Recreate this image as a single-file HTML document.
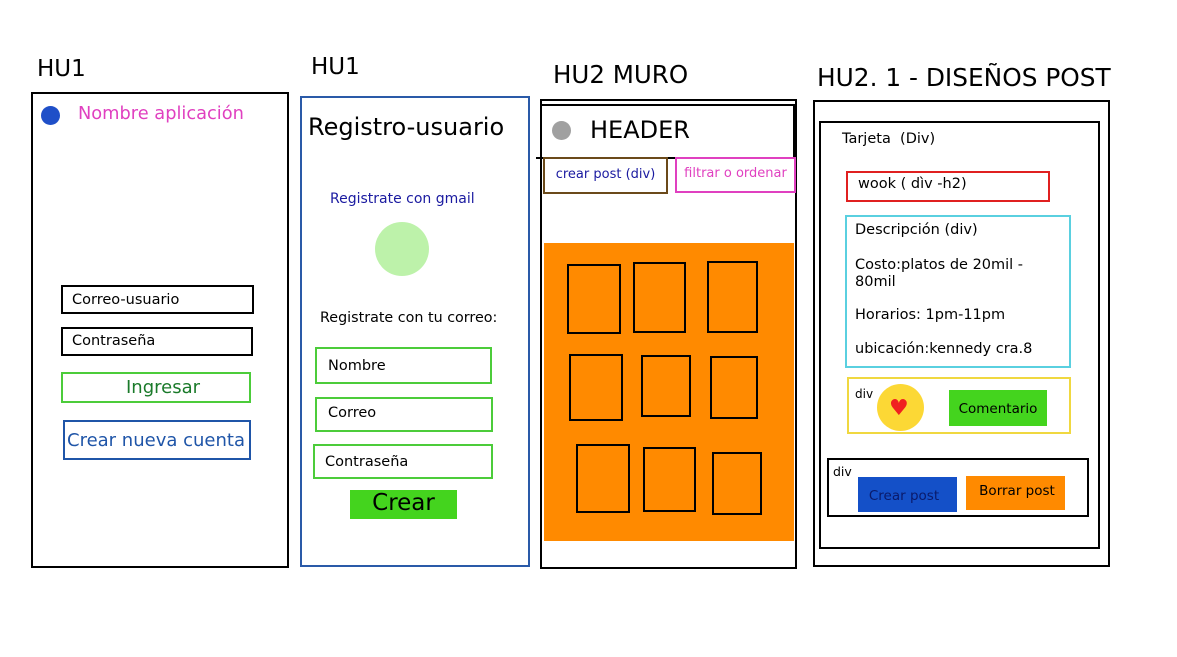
<!DOCTYPE html>
<html><head><meta charset="utf-8"><style>
body{margin:0;width:1177px;height:657px;background:#fff;position:relative;font-family:"DejaVu Sans","Liberation Sans",sans-serif;overflow:hidden}
div{position:absolute;box-sizing:border-box}
.t{white-space:nowrap;line-height:1}
.b{border:2px solid #000}
.c{border-radius:50%}
</style></head><body>
<div class="t" style="left:37px;top:58px;font-size:23px">HU1</div>
<div class="b" style="left:31px;top:92px;width:258px;height:476px"></div>
<div class="c" style="left:41px;top:106px;width:19px;height:19px;background:#1f4fc8"></div>
<div class="t" style="left:78px;top:105px;font-size:17.8px;color:#e040c0">Nombre aplicación</div>
<div class="b" style="left:61px;top:285px;width:193px;height:29px"></div>
<div class="t" style="left:72px;top:293px;font-size:14.5px">Correo-usuario</div>
<div class="b" style="left:61px;top:327px;width:192px;height:29px"></div>
<div class="t" style="left:72px;top:334px;font-size:14.5px">Contraseña</div>
<div style="left:61px;top:372px;width:190px;height:31px;border:2px solid #4ccc3a"></div>
<div class="t" style="left:61px;top:379px;width:176px;text-align:center;font-size:18px;color:#1a7a2a;padding-left:14px;box-sizing:content-box">Ingresar</div>
<div style="left:63px;top:420px;width:188px;height:40px;border:2px solid #1f55a8"></div>
<div class="t" style="left:67px;top:432px;font-size:18px;color:#1f55a8">Crear nueva cuenta</div>

<div class="t" style="left:311px;top:56px;font-size:23px">HU1</div>
<div style="left:300px;top:96px;width:230px;height:471px;border:2px solid #2a5aa8"></div>
<div class="t" style="left:308px;top:115px;font-size:24px">Registro-usuario</div>
<div class="t" style="left:330px;top:192px;font-size:14px;color:#1a1aa0">Registrate con gmail</div>
<div class="c" style="left:375px;top:222px;width:54px;height:54px;background:#bdf2aa"></div>
<div class="t" style="left:320px;top:311px;font-size:14.3px">Registrate con tu correo:</div>
<div style="left:315px;top:347px;width:177px;height:37px;border:2px solid #4ccc3a"></div>
<div class="t" style="left:328px;top:359px;font-size:14.5px">Nombre</div>
<div style="left:315px;top:397px;width:178px;height:35px;border:2px solid #4ccc3a"></div>
<div class="t" style="left:328px;top:406px;font-size:14.5px">Correo</div>
<div style="left:313px;top:444px;width:180px;height:35px;border:2px solid #4ccc3a"></div>
<div class="t" style="left:325px;top:455px;font-size:14.5px">Contraseña</div>
<div style="left:350px;top:490px;width:107px;height:29px;background:#44d41e"></div>
<div class="t" style="left:350px;top:492px;width:107px;text-align:center;font-size:23px">Crear</div>

<div class="t" style="left:553px;top:63px;font-size:24.5px">HU2 MURO</div>
<div class="b" style="left:540px;top:99px;width:257px;height:470px"></div>
<div style="left:540px;top:104px;width:256px;height:55px;border:2px solid #000;border-right-width:3px"></div>
<div style="left:536px;top:157px;width:6px;height:2px;background:#000"></div>
<div class="c" style="left:552px;top:121px;width:19px;height:19px;background:#a0a0a0"></div>
<div class="t" style="left:590px;top:118px;font-size:24px">HEADER</div>
<div style="left:543px;top:157px;width:125px;height:37px;border:2px solid #6b4a1a"></div>
<div class="t" style="left:543px;top:168px;width:125px;text-align:center;font-size:13px;color:#1a1aa0">crear post (div)</div>
<div style="left:675px;top:157px;width:121px;height:36px;border:2px solid #e040c0"></div>
<div class="t" style="left:675px;top:167px;width:121px;text-align:center;font-size:13px;color:#e040c0">filtrar o ordenar</div>
<div style="left:544px;top:243px;width:250px;height:298px;background:#ff8a00"></div>
<div class="b" style="left:567px;top:264px;width:54px;height:70px"></div>
<div class="b" style="left:633px;top:262px;width:53px;height:71px"></div>
<div class="b" style="left:707px;top:261px;width:51px;height:72px"></div>
<div class="b" style="left:569px;top:354px;width:54px;height:67px"></div>
<div class="b" style="left:641px;top:355px;width:50px;height:62px"></div>
<div class="b" style="left:710px;top:356px;width:48px;height:63px"></div>
<div class="b" style="left:576px;top:444px;width:54px;height:69px"></div>
<div class="b" style="left:643px;top:447px;width:53px;height:65px"></div>
<div class="b" style="left:712px;top:452px;width:50px;height:63px"></div>

<div class="t" style="left:817px;top:66px;font-size:24.8px">HU2. 1 - DISEÑOS POST</div>
<div class="b" style="left:813px;top:100px;width:297px;height:467px"></div>
<div class="b" style="left:819px;top:121px;width:281px;height:428px"></div>
<div class="t" style="left:842px;top:132px;font-size:14.5px">Tarjeta&nbsp; (Div)</div>
<div style="left:846px;top:171px;width:204px;height:31px;border:2px solid #e02020"></div>
<div class="t" style="left:858px;top:177px;font-size:14.5px">wook ( dìv -h2)</div>
<div style="left:845px;top:215px;width:226px;height:153px;border:2px solid #5ad0e0"></div>
<div class="t" style="left:855px;top:223px;font-size:14.5px">Descripción (div)</div>
<div class="t" style="left:855px;top:257px;font-size:14.5px;line-height:17px">Costo:platos de 20mil -<br>80mil</div>
<div class="t" style="left:855px;top:308px;font-size:14.5px">Horarios: 1pm-11pm</div>
<div class="t" style="left:855px;top:342px;font-size:14.5px">ubicación:kennedy cra.8</div>
<div style="left:847px;top:377px;width:224px;height:57px;border:2px solid #f0d840"></div>
<div class="t" style="left:855px;top:388px;font-size:12px">div</div>
<div class="c" style="left:877px;top:384px;width:47px;height:47px;background:#fcd835"></div>
<div class="t" style="left:889px;top:398px;font-size:22px;color:#f02020">♥</div>
<div style="left:949px;top:390px;width:98px;height:36px;background:#44d41e"></div>
<div class="t" style="left:949px;top:403px;width:98px;text-align:center;font-size:13.5px">Comentario</div>
<div class="b" style="left:827px;top:458px;width:262px;height:59px"></div>
<div class="t" style="left:833px;top:466px;font-size:12.5px">div</div>
<div style="left:858px;top:477px;width:99px;height:35px;background:#1450c8"></div>
<div class="t" style="left:858px;top:490px;width:92px;text-align:center;font-size:13.5px;color:#0a1a6a">Crear post</div>
<div style="left:966px;top:476px;width:99px;height:34px;background:#ff8a00"></div>
<div class="t" style="left:966px;top:485px;width:102px;text-align:center;font-size:13.5px">Borrar post</div>
</body></html>
